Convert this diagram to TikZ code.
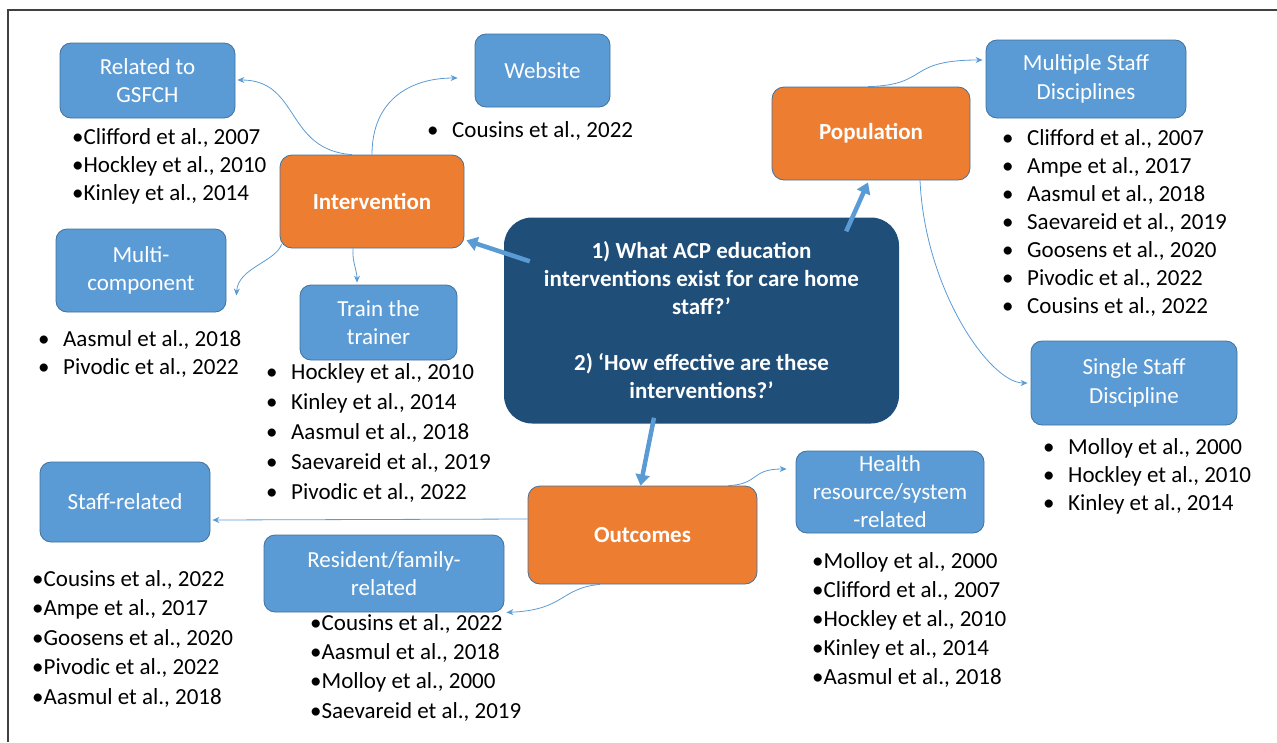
\documentclass[tikz,border=0pt]{standalone}
\usepackage{fontspec}
\setmainfont{Carlito}
\usetikzlibrary{arrows.meta, calc}
\definecolor{acpnavy}{HTML}{1F4E79}
\definecolor{acporange}{HTML}{ED7D31}
\definecolor{acpblue}{HTML}{5B9BD5}
\definecolor{acpedge}{HTML}{41719C}
\definecolor{acpframe}{HTML}{404040}

% bullet with a gap after it
\newcommand{\gapbullet}{\makebox[25pt][l]{\textbullet}}

\tikzset{
    question/.style={fill=acpnavy, text=white, font=\fontsize{23}{28}\selectfont\bfseries, rounded corners=28pt, align=center, inner sep=0pt},
    pico/.style={fill=acporange, draw=acpedge, line width=0.8pt, text=white, font=\fontsize{23}{28}\selectfont\bfseries, rounded corners=12pt, inner sep=0pt},
    topic/.style={fill=acpblue, draw=acpedge, line width=0.8pt, text=white, font=\fontsize{23}{28.5}\selectfont, rounded corners=11pt, align=center, inner sep=0pt},
    reflist/.style={anchor=north west, align=left, inner sep=0pt, font=\fontsize{23}{28}\selectfont},
    bigarrow/.style={-{Triangle[length=11pt,width=14pt]}, line width=4.5pt, acpblue},
    link/.style={-{Stealth[length=7pt,width=6pt]}, line width=0.8pt, acpblue},
}

\begin{document}
\begin{tikzpicture}[x=1pt, y=-1pt]
    \useasboundingbox (0,0) rectangle (1277,742);
    \draw[acpframe, line width=1.5pt] (8,742) -- (8,10) -- (1277,10);

    % research questions
    \node[question, minimum width=395pt, minimum height=206pt] (question) at (701.5,320.5) {1) What ACP education\\interventions exist for care home\\staff?’\\[28pt]2) ‘How effective are these\\interventions?’};

    % main themes
    \node[pico, minimum width=184pt, minimum height=93pt] (intervention) at (372,201.5) {Intervention};
    \node[pico, minimum width=198pt, minimum height=93pt] (population) at (871,133.5) {Population};
    \node[pico, minimum width=229pt, minimum height=98pt] (outcomes) at (642.5,535) {Outcomes};

    % sub-themes
    \node[topic, minimum width=175pt, minimum height=75pt] (gsfch) at (147.5,80.5) {Related to\\GSFCH};
    \node[topic, minimum width=135pt, minimum height=73pt] (website) at (542.5,70.5) {Website};
    \node[topic, minimum width=170pt, minimum height=83pt] (multicomp) at (141,270.5) {Multi-\\component};
    \node[topic, minimum width=157pt, minimum height=75pt] (trainer) at (378.5,322.5) {Train the\\trainer};
    \node[topic, minimum width=200pt, minimum height=78pt] (multistaff) at (1086,79) {Multiple Staff\\Disciplines};
    \node[topic, minimum width=206pt, minimum height=84pt] (singlestaff) at (1134,383) {Single Staff\\Discipline};
    \node[topic, minimum width=170pt, minimum height=80pt] (staffrel) at (125,502) {Staff-related};
    \node[topic, minimum width=240pt, minimum height=77pt] (resident) at (384,573.5) {Resident/family-\\related};
    \node[topic, minimum width=188pt, minimum height=82pt, font=\fontsize{23}{28}\selectfont] (healthres) at (890,492) {Health\\resource/system\\-related};

    % studies under each sub-theme
    \node[reflist] (gsfchrefs) at (72,128) {\textbullet Clifford et al., 2007\\\textbullet Hockley et al., 2010\\\textbullet Kinley et al., 2014};
    \node[reflist] (websiterefs) at (427,121) {\gapbullet Cousins et al., 2022};
    \node[reflist] (multicomprefs) at (38,330) {\gapbullet Aasmul et al., 2018\\\gapbullet Pivodic et al., 2022};
    \node[reflist, font=\fontsize{23}{30}\selectfont] (trainerrefs) at (266,363) {\gapbullet Hockley et al., 2010\\\gapbullet Kinley et al., 2014\\\gapbullet Aasmul et al., 2018\\\gapbullet Saevareid et al., 2019\\\gapbullet Pivodic et al., 2022};
    \node[reflist] (multistaffrefs) at (1002,129) {\gapbullet Clifford et al., 2007\\\gapbullet Ampe et al., 2017\\\gapbullet Aasmul et al., 2018\\\gapbullet Saevareid et al., 2019\\\gapbullet Goosens et al., 2020\\\gapbullet Pivodic et al., 2022\\\gapbullet Cousins et al., 2022};
    \node[reflist] (singlestaffrefs) at (1043,438) {\gapbullet Molloy et al., 2000\\\gapbullet Hockley et al., 2010\\\gapbullet Kinley et al., 2014};
    \node[reflist, font=\fontsize{23}{29.5}\selectfont] (staffrelrefs) at (32,570) {\textbullet Cousins et al., 2022\\\textbullet Ampe et al., 2017\\\textbullet Goosens et al., 2020\\\textbullet Pivodic et al., 2022\\\textbullet Aasmul et al., 2018};
    \node[reflist, font=\fontsize{23}{29.3}\selectfont] (residentrefs) at (310,614) {\textbullet Cousins et al., 2022\\\textbullet Aasmul et al., 2018\\\textbullet Molloy et al., 2000\\\textbullet Saevareid et al., 2019};
    \node[reflist, font=\fontsize{23}{29.2}\selectfont] (healthresrefs) at (812,552) {\textbullet Molloy et al., 2000\\\textbullet Clifford et al., 2007\\\textbullet Hockley et al., 2010\\\textbullet Kinley et al., 2014\\\textbullet Aasmul et al., 2018};

    % question to themes
    \draw[bigarrow] ([shift={(26,44)}]question.north west) -- ([shift={(2,-8)}]intervention.south east);
    \draw[bigarrow] ([shift={(-53,14)}]question.north east) -- ([shift={(-3,2)}]population.south);
    \draw[bigarrow] ([shift={(-47.5,-6)}]question.south) -- ([shift={(-2,0)}]outcomes.north);

    % themes to sub-themes
    \draw[link] ([xshift=-20pt]intervention.north) .. controls (285,150) and (300,80) .. ([shift={(2,-0.5)}]gsfch.east);
    \draw[link] (intervention.north) .. controls (372,100) and (410,78) .. ([shift={(-17,7.5)}]website.west);
    \draw[link] ([shift={(2,-4)}]intervention.south west) .. controls (275,262) and (238,268) .. ([shift={(10,25)}]multicomp.east);
    \draw[link] ([xshift=-19pt]intervention.south) .. controls (352,262) and (357,270) .. ([shift={(-21.5,-2)}]trainer.north);
    \draw[link] ([xshift=-3pt]population.north) .. controls (930,85) and (905,60) .. ([shift={(-3,-19)}]multistaff.west);
    \draw[link] ([xshift=49pt]population.south) .. controls (925,290) and (990,383) .. ([xshift=-3pt]singlestaff.west);
    \draw[link] ([shift={(0,-16)}]outcomes.west) -- ([shift={(2,18)}]staffrel.east);
    \draw[link] ([xshift=-42.5pt]outcomes.south) .. controls (560,588) and (565,610) .. ([xshift=2pt]resident.south east);
    \draw[link] ([xshift=-29pt]outcomes.north east) .. controls (760,484) and (750,469) .. ([shift={(-9,-23)}]healthres.west);
\end{tikzpicture}
\end{document}
